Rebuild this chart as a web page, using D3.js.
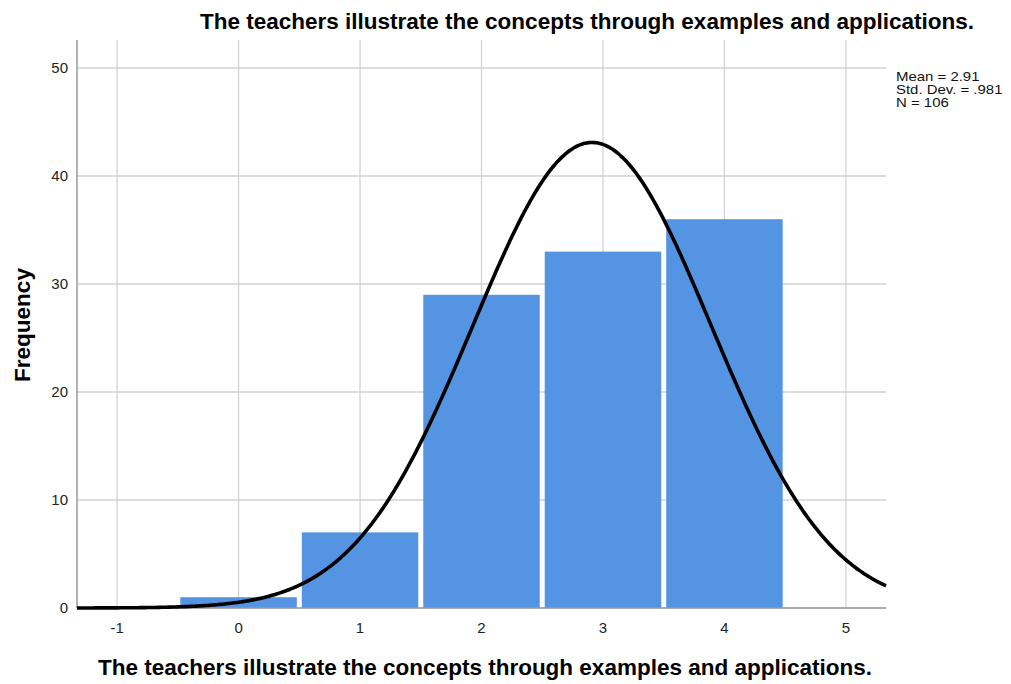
<!DOCTYPE html>
<html><head><meta charset="utf-8">
<script src="https://cdn.jsdelivr.net/npm/d3@7"></script>
<style>body{margin:0;background:#fff;font-family:"Liberation Sans",Arial,sans-serif;}</style>
</head><body>
<svg id="c" width="1011" height="684"></svg>
<script>
const binCenters = [0, 1, 2, 3, 4];
const frequencies = [1, 7, 29, 33, 36];
const xTicks = [-1, 0, 1, 2, 3, 4, 5];
const yTicks = [0, 10, 20, 30, 40, 50];
const mean = 2.91, sd = 0.981, n = 106;
const statsLines = ["Mean = 2.91", "Std. Dev. = .981", "N = 106"];
const title = "The teachers illustrate the concepts through examples and applications.";

const svg = d3.select("#c");
const L = 77, R = 886, T = 40, B = 608;
const x = d3.scaleLinear().domain([-1.33, 5.33]).range([L, R]);
const y = d3.scaleLinear().domain([0, 50]).range([B, 68]);

// grid
svg.append("g").selectAll("line").data(xTicks).join("line")
  .attr("x1", d => x(d)).attr("x2", d => x(d)).attr("y1", T).attr("y2", B)
  .attr("stroke", "#d2d2d2").attr("stroke-width", 1.3);
svg.append("g").selectAll("line").data(yTicks).join("line")
  .attr("x1", L).attr("x2", R).attr("y1", d => y(d)).attr("y2", d => y(d))
  .attr("stroke", "#d2d2d2").attr("stroke-width", 1.3);

// bars
svg.append("g").selectAll("rect").data(binCenters).join("rect")
  .attr("x", d => x(d - 0.5) + 2.5)
  .attr("width", d => x(d + 0.5) - x(d - 0.5) - 5)
  .attr("y", (d, i) => y(frequencies[i]))
  .attr("height", (d, i) => B - y(frequencies[i]))
  .attr("fill", "#5594e3");

// axes lines
svg.append("line").attr("x1", L).attr("x2", L).attr("y1", T).attr("y2", B).attr("stroke", "#9a9a9a").attr("stroke-width", 1.5);
svg.append("line").attr("x1", L).attr("x2", R).attr("y1", B).attr("y2", B).attr("stroke", "#9a9a9a").attr("stroke-width", 1.5);

// normal curve
const pts = d3.range(0, 401).map(i => -1.33 + i * (6.66 / 400));
const pdf = v => n * Math.exp(-0.5 * ((v - mean) / sd) ** 2) / (sd * Math.sqrt(2 * Math.PI));
svg.append("path").datum(pts)
  .attr("d", d3.line().x(d => x(d)).y(d => y(pdf(d))).curve(d3.curveBasis))
  .attr("fill", "none").attr("stroke", "#000").attr("stroke-width", 3.6);

// tick labels
svg.append("g").selectAll("text").data(xTicks).join("text")
  .attr("x", d => x(d)).attr("y", 633).attr("text-anchor", "middle")
  .attr("font-size", 15).attr("fill", "#222").text(d => d);
svg.append("g").selectAll("text").data(yTicks).join("text")
  .attr("x", 68).attr("y", d => y(d) + 5).attr("text-anchor", "end")
  .attr("font-size", 15).attr("fill", "#222").text(d => d);

// titles
svg.append("text").attr("x", 587).attr("y", 29).attr("text-anchor", "middle")
  .attr("font-size", 22.5).attr("font-weight", "bold").attr("fill", "#000").text(title);
svg.append("text").attr("x", 485).attr("y", 675).attr("text-anchor", "middle")
  .attr("font-size", 22.5).attr("font-weight", "bold").attr("fill", "#000").text(title);
svg.append("text").attr("transform", "translate(30,325) rotate(-90)").attr("text-anchor", "middle")
  .attr("font-size", 22.5).attr("font-weight", "bold").attr("fill", "#000").text("Frequency");

// stats
svg.append("g").attr("transform", "translate(896,0) scale(1.15,1)")
  .selectAll("text").data(statsLines).join("text")
  .attr("x", 0).attr("y", (d, i) => 81 + i * 13)
  .attr("font-size", 13).attr("fill", "#111").text(d => d);
</script>
</body></html>
